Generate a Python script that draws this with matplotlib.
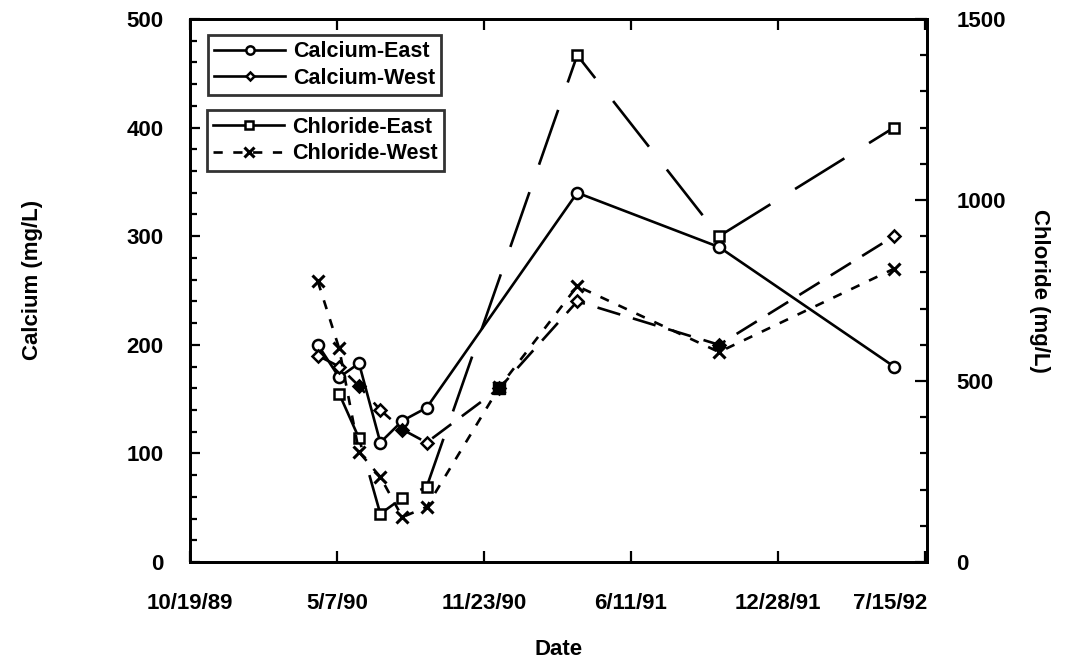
import matplotlib
matplotlib.use('Agg')
import matplotlib.pyplot as plt
import matplotlib.dates as mdates
import matplotlib.transforms as mtrans
from matplotlib.ticker import MultipleLocator, FixedLocator
from matplotlib.lines import Line2D
import datetime as dt

# ---------------- data ----------------
sample_dates = ['1990-04-11', '1990-05-10', '1990-06-06', '1990-07-05', '1990-08-04',
                '1990-09-06', '1990-12-14', '1991-03-30', '1991-10-09', '1992-06-03']

ca_east_dates = sample_dates[0:6] + sample_dates[7:10]
ca_east = [200, 170, 183, 110, 130, 142, 340, 290, 180]

ca_west_dates = sample_dates
ca_west = [190, 180, 162, 140, 122, 110, 160, 240, 200, 300]

cl_east_dates = sample_dates[1:6] + sample_dates[7:10]
cl_east = [465, 342, 133, 177, 207, 1400, 900, 1200]

cl_west_dates = sample_dates
cl_west = [775, 590, 304, 235, 124, 152, 483, 762, 580, 810]

x_tick_labels = ['10/19/89', '5/7/90', '11/23/90', '6/11/91', '12/28/91', '7/15/92']
ca_ticks = [0, 100, 200, 300, 400, 500]
cl_ticks = [0, 500, 1000, 1500]

# ---------------- style ----------------
plt.rcParams['font.family'] = ['Liberation Sans', 'DejaVu Sans']
plt.rcParams['font.weight'] = 'bold'

def to_dt(s):
    return dt.datetime.strptime(s, '%Y-%m-%d')

fig = plt.figure(figsize=(10.65, 6.63), dpi=100)
ax = fig.add_axes([190 / 1065, 1 - 562 / 663, (927 - 190) / 1065, (562 - 19) / 663])
ax2 = ax.twinx()

lw = 1.9
mew = 1.8
ce, = ax.plot([to_dt(d) for d in ca_east_dates], ca_east, color='black', lw=lw, ls='-',
              marker='o', ms=8, mfc='white', mec='black', mew=mew, label='Calcium-East')
cw, = ax.plot([to_dt(d) for d in ca_west_dates], ca_west, color='black', lw=lw, ls=(0, (9, 5)),
              marker='D', ms=6, mfc='white', mec='black', mew=mew, label='Calcium-West')
# overlapping markers that print as solid blobs in the original
ax.plot([to_dt(d) for d in ca_west_dates], ca_west, ls='none', marker='D', ms=6.5,
        mfc='black', mec='black', markevery=[2, 4, 8])
ax.plot([to_dt(d) for d in ca_west_dates], ca_west, ls='none', marker='s', ms=8,
        mfc='black', mec='black', markevery=[6])

xe, = ax2.plot([to_dt(d) for d in cl_east_dates], cl_east, color='black', lw=lw, ls=(0, (22, 11)),
               marker='s', ms=7.5, mfc='white', mec='black', mew=mew, label='Chloride-East')
xw, = ax2.plot([to_dt(d) for d in cl_west_dates], cl_west, color='black', lw=lw, ls=(0, (3.5, 4)),
               marker='x', ms=8.5, mec='black', mew=2.2, label='Chloride-West')

# ---------------- axes ----------------
xt = [dt.datetime.strptime(s, '%m/%d/%y') for s in x_tick_labels]
ax.set_xlim(xt[0], xt[-1] + dt.timedelta(days=3))
ax.set_ylim(ca_ticks[0], ca_ticks[-1])
ax2.set_ylim(cl_ticks[0], cl_ticks[-1])

ax.xaxis.set_major_locator(FixedLocator(mdates.date2num(xt)))
ax.set_xticklabels(x_tick_labels)
ax.yaxis.set_major_locator(FixedLocator(ca_ticks))
ax.yaxis.set_minor_locator(MultipleLocator(20))
ax2.yaxis.set_major_locator(FixedLocator(cl_ticks))
ax2.yaxis.set_minor_locator(MultipleLocator(100))

for a in (ax, ax2):
    for sp in a.spines.values():
        sp.set_linewidth(2.0)

ax.tick_params(axis='x', which='major', direction='in', length=8, width=1.6, top=True,
               labelsize=16, pad=22)
ax.tick_params(axis='y', which='major', direction='in', length=7, width=1.6, right=False,
               labelsize=16, pad=19)
ax.tick_params(axis='y', which='minor', direction='in', length=5, width=1.6, right=False)
ax2.tick_params(axis='y', which='major', direction='in', length=9, width=1.6,
                labelsize=16, pad=21)
ax2.tick_params(axis='y', which='minor', direction='in', length=5, width=1.6)

labs = ax.get_xticklabels()
labs[-1].set_horizontalalignment('right')
labs[-1].set_transform(labs[-1].get_transform() + mtrans.ScaledTranslation(2 / 72, 0, fig.dpi_scale_trans))

ax.set_xlabel('Date', fontsize=16, fontweight='bold')
ax.xaxis.set_label_coords(0.5, -0.142)
ax.set_ylabel('Calcium (mg/L)', fontsize=16, fontweight='bold')
ax.yaxis.set_label_coords(-0.2, 0.52)
ax2.set_ylabel('Chloride (mg/L)', fontsize=16, fontweight='bold', rotation=-90, va='center')
ax2.yaxis.set_label_coords(1.153, 0.5)

# ---------------- legends ----------------
h_ce = Line2D([], [], color='black', lw=lw, ls='-', marker='o', ms=6, mfc='white', mec='black', mew=mew)
h_cw = Line2D([], [], color='black', lw=lw, ls='-', marker='D', ms=4.5, mfc='white', mec='black', mew=mew)
h_xe = Line2D([], [], color='black', lw=lw, ls='-', marker='s', ms=6, mfc='white', mec='black', mew=mew)
h_xw = Line2D([], [], color='black', lw=lw, ls=(0, (3.5, 4)), marker='x', ms=7.5, mec='black', mew=2.2)

leg_kw = dict(frameon=True, fancybox=False, shadow=False, handlelength=3.3,
              handletextpad=0.35, borderpad=0.3, labelspacing=0.25, borderaxespad=0.0,
              prop={'weight': 'bold', 'size': 15.5})
leg1 = ax2.legend(handles=[h_ce, h_cw], labels=['Calcium-East', 'Calcium-West'],
                  loc='upper left', bbox_to_anchor=(0.024, 0.971), **leg_kw)
leg1.get_frame().set_edgecolor('black')
leg1.get_frame().set_linewidth(2.0)
ax2.add_artist(leg1)
leg2 = ax2.legend(handles=[h_xe, h_xw], labels=['Chloride-East', 'Chloride-West'],
                  loc='upper left', bbox_to_anchor=(0.023, 0.832), **leg_kw)
leg2.get_frame().set_edgecolor('black')
leg2.get_frame().set_linewidth(2.0)

fig.savefig('out.png', dpi=100)
